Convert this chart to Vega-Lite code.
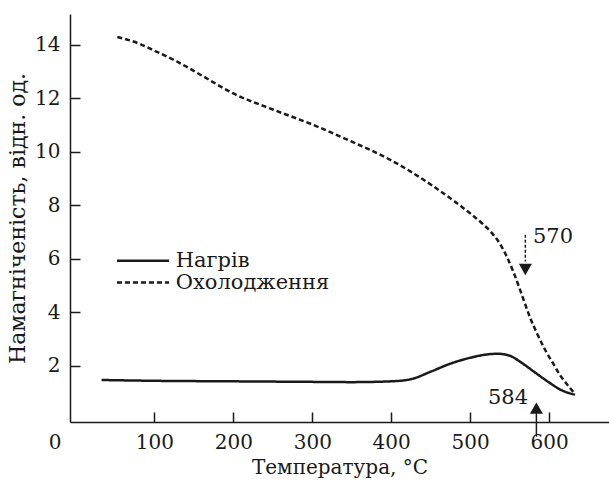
{
  "$schema": "https://vega.github.io/schema/vega-lite/v6.json",
  "autosize": "none",
  "padding": {"left": 70, "top": 14, "right": 0, "bottom": 62},
  "width": 539,
  "height": 408,
  "background": "white",
  "config": {
    "view": {"stroke": null},
    "font": "DejaVu Serif",
    "axis": {
      "domainColor": "#1a1a1a",
      "domainWidth": 1.5,
      "tickColor": "#1a1a1a",
      "tickWidth": 1.5,
      "tickSize": -10,
      "grid": false,
      "labelFont": "DejaVu Serif",
      "labelFontSize": 20,
      "labelColor": "#1a1a1a",
      "titleFont": "DejaVu Serif",
      "titleFontSize": 20,
      "titleFontWeight": "normal",
      "titleColor": "#1a1a1a",
      "labelPadding": 20
    }
  },
  "datasets": {
    "curves": [
      {"series": "Нагрів", "t": 33, "m": 1.47},
      {"series": "Нагрів", "t": 100, "m": 1.44},
      {"series": "Нагрів", "t": 200, "m": 1.42},
      {"series": "Нагрів", "t": 300, "m": 1.40},
      {"series": "Нагрів", "t": 350, "m": 1.39},
      {"series": "Нагрів", "t": 400, "m": 1.42},
      {"series": "Нагрів", "t": 425, "m": 1.50},
      {"series": "Нагрів", "t": 450, "m": 1.78},
      {"series": "Нагрів", "t": 475, "m": 2.08},
      {"series": "Нагрів", "t": 500, "m": 2.30},
      {"series": "Нагрів", "t": 520, "m": 2.42},
      {"series": "Нагрів", "t": 535, "m": 2.45},
      {"series": "Нагрів", "t": 550, "m": 2.38},
      {"series": "Нагрів", "t": 565, "m": 2.12},
      {"series": "Нагрів", "t": 580, "m": 1.80},
      {"series": "Нагрів", "t": 600, "m": 1.38},
      {"series": "Нагрів", "t": 615, "m": 1.10},
      {"series": "Нагрів", "t": 633, "m": 0.92},
      {"series": "Охолодження", "t": 53, "m": 14.29},
      {"series": "Охолодження", "t": 80, "m": 14.05},
      {"series": "Охолодження", "t": 100, "m": 13.78},
      {"series": "Охолодження", "t": 130, "m": 13.35},
      {"series": "Охолодження", "t": 160, "m": 12.85},
      {"series": "Охолодження", "t": 200, "m": 12.18},
      {"series": "Охолодження", "t": 250, "m": 11.58},
      {"series": "Охолодження", "t": 300, "m": 11.02},
      {"series": "Охолодження", "t": 350, "m": 10.38},
      {"series": "Охолодження", "t": 400, "m": 9.68},
      {"series": "Охолодження", "t": 450, "m": 8.78},
      {"series": "Охолодження", "t": 480, "m": 8.15},
      {"series": "Охолодження", "t": 500, "m": 7.7},
      {"series": "Охолодження", "t": 515, "m": 7.33},
      {"series": "Охолодження", "t": 528, "m": 6.95},
      {"series": "Охолодження", "t": 538, "m": 6.55},
      {"series": "Охолодження", "t": 547, "m": 6.05},
      {"series": "Охолодження", "t": 555, "m": 5.5},
      {"series": "Охолодження", "t": 562, "m": 4.95},
      {"series": "Охолодження", "t": 568, "m": 4.45},
      {"series": "Охолодження", "t": 576, "m": 3.8},
      {"series": "Охолодження", "t": 585, "m": 3.2},
      {"series": "Охолодження", "t": 595, "m": 2.6},
      {"series": "Охолодження", "t": 605, "m": 2.1},
      {"series": "Охолодження", "t": 614, "m": 1.65},
      {"series": "Охолодження", "t": 623, "m": 1.3},
      {"series": "Охолодження", "t": 633, "m": 0.95}
    ],
    "arrows": [
      {"label": "570", "t": 570, "from": 6.9, "to": 5.9, "head": 5.6, "shape": "triangle-down", "dash": "dashed", "lt": 605, "lm": 6.8},
      {"label": "584", "t": 584, "from": -0.65, "to": 0.3, "head": 0.42, "shape": "triangle-up", "dash": "solid", "lt": 548, "lm": 0.78}
    ],
    "legend": [
      {"series": "Нагрів", "a": 52.5, "b": 118.5, "tx": 127, "ly": 5.93},
      {"series": "Охолодження", "a": 52.5, "b": 118.5, "tx": 127, "ly": 5.11}
    ]
  },
  "layer": [
    {
      "data": {"name": "curves"},
      "mark": {"type": "line", "interpolate": "monotone", "strokeWidth": 2.5, "color": "#1a1a1a"},
      "encoding": {
        "x": {
          "field": "t", "type": "quantitative",
          "scale": {"domain": [-7, 676], "nice": false, "zero": false},
          "axis": {
            "values": [0, 100, 200, 300, 400, 500, 600],
            "title": "Температура, °C",
            "titlePadding": 5,
            "labelOffset": {"condition": {"test": "datum.value == 0", "value": -21}, "value": 0},
            "tickOpacity": {"condition": {"test": "datum.value == 0", "value": 0}, "value": 1}
          }
        },
        "y": {
          "field": "m", "type": "quantitative",
          "scale": {"domain": [-0.1, 15.15], "nice": false, "zero": false},
          "axis": {
            "values": [2, 4, 6, 8, 10, 12, 14],
            "title": "Намагніченість, відн. од.",
            "titleFontSize": 22,
            "titlePadding": 5
          }
        },
        "strokeDash": {
          "field": "series", "type": "nominal",
          "scale": {"domain": ["Нагрів", "Охолодження"], "range": [[1, 0], [5, 3]]},
          "legend": null
        }
      }
    },
    {
      "data": {"name": "legend"},
      "mark": {"type": "rule", "strokeWidth": 2.5, "color": "#1a1a1a"},
      "encoding": {
        "x": {"field": "a", "type": "quantitative"},
        "x2": {"field": "b"},
        "y": {"field": "ly", "type": "quantitative"},
        "strokeDash": {
          "field": "series", "type": "nominal",
          "scale": {"domain": ["Нагрів", "Охолодження"], "range": [[1, 0], [5, 3]]},
          "legend": null
        }
      }
    },
    {
      "data": {"name": "legend"},
      "mark": {"type": "text", "fontSize": 21, "font": "DejaVu Serif", "color": "#1a1a1a", "baseline": "middle", "align": "left", "dy": 0},
      "encoding": {
        "x": {"field": "tx", "type": "quantitative"},
        "y": {"field": "ly", "type": "quantitative"},
        "text": {"field": "series"}
      }
    },
    {
      "data": {"name": "arrows"},
      "mark": {"type": "rule", "strokeWidth": 1.5, "color": "#1a1a1a", "clip": false},
      "encoding": {
        "x": {"field": "t", "type": "quantitative"},
        "y": {"field": "from", "type": "quantitative"},
        "y2": {"field": "to"},
        "strokeDash": {"field": "dash", "type": "nominal", "scale": {"domain": ["dashed", "solid"], "range": [[3, 2], [1, 0]]}, "legend": null}
      }
    },
    {
      "data": {"name": "arrows"},
      "mark": {"type": "point", "filled": true, "size": 170, "color": "#1a1a1a", "opacity": 1},
      "encoding": {
        "x": {"field": "t", "type": "quantitative"},
        "y": {"field": "head", "type": "quantitative"},
        "shape": {"field": "shape", "type": "nominal", "scale": null}
      }
    },
    {
      "data": {"name": "arrows"},
      "mark": {"type": "text", "fontSize": 21, "font": "DejaVu Serif", "color": "#1a1a1a", "baseline": "middle", "align": "center"},
      "encoding": {
        "x": {"field": "lt", "type": "quantitative"},
        "y": {"field": "lm", "type": "quantitative"},
        "text": {"field": "label"}
      }
    },
    {
      "mark": {"type": "rule", "strokeWidth": 1.5, "color": "#1a1a1a"},
      "encoding": {
        "y": {"datum": 15.15, "type": "quantitative"}
      }
    }
  ],
  "resolve": {"scale": {"strokeDash": "independent"}}
}
